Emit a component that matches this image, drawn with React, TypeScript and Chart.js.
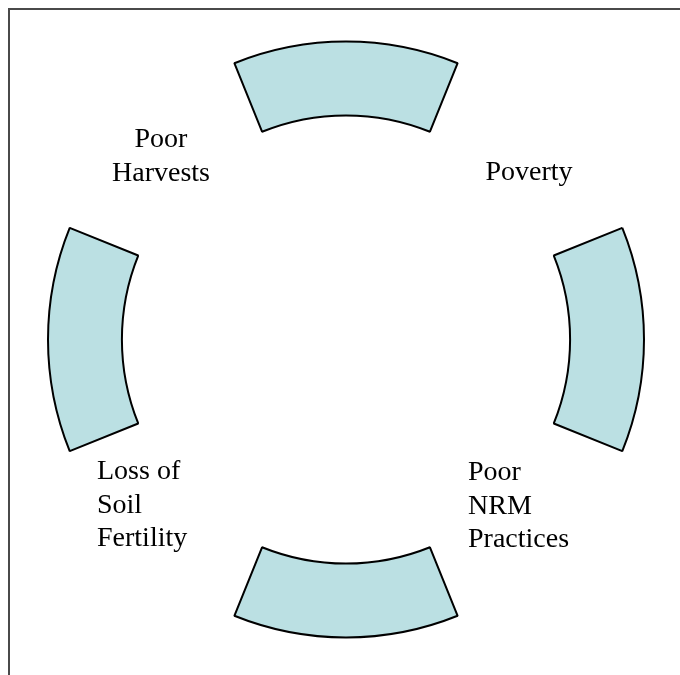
import React, { useEffect, useRef } from "react";
import { Chart, registerables } from "chart.js";

Chart.register(...registerables);

// Cycle stages (clockwise from the top segment)
const stageNames = ["Stage 1", "Stage 2", "Stage 3", "Stage 4"];
// Angular size of each arc segment (degrees) and of the gap after it
const arcDegrees = [44, 44, 44, 44];
const gapDegrees = [46, 46, 46, 46];
// Text labels placed in the gaps (clockwise from top-left)
const labelLines = [
  ["Poor", "Harvests"],
  ["Poverty"],
  ["Poor", "NRM", "Practices"],
  ["Loss of", "Soil", "Fertility"],
];

const W = 680;
const H = 675;
const FILL = "#BBE0E3";
const FONT = '28px "Liberation Serif", "Times New Roman", serif';

export default function App() {
  const ref = useRef<HTMLCanvasElement | null>(null);

  useEffect(() => {
    if (!ref.current) return;

    const values: number[] = [];
    const labels: string[] = [];
    const bg: string[] = [];
    const bw: number[] = [];
    stageNames.forEach((n, i) => {
      values.push(arcDegrees[i]);
      labels.push(n);
      bg.push(FILL);
      bw.push(2);
      values.push(gapDegrees[i]);
      labels.push("gap " + (i + 1));
      bg.push("rgba(0,0,0,0)");
      bw.push(0);
    });

    // layout anchors for the text blocks: [x, firstBaseline, align]
    const anchors: [number, number, CanvasTextAlign][] = [
      [161, 147, "center"],
      [529, 180, "center"],
      [468, 480, "left"],
      [97, 479, "left"],
    ];
    const lineH = 33.5;

    const textPlugin = {
      id: "cycleText",
      afterDraw(chart: any) {
        const ctx = chart.ctx as CanvasRenderingContext2D;
        ctx.save();
        ctx.font = FONT;
        ctx.fillStyle = "#000";
        ctx.textBaseline = "alphabetic";
        labelLines.forEach((lines, i) => {
          const [x, y, align] = anchors[i];
          ctx.textAlign = align;
          lines.forEach((t, j) => ctx.fillText(t, x, y + j * lineH));
        });
        ctx.restore();
      },
    };

    const chart = new Chart(ref.current, {
      type: "doughnut",
      data: {
        labels,
        datasets: [
          {
            data: values,
            backgroundColor: bg,
            borderColor: "#000",
            borderWidth: bw,
            borderJoinStyle: "bevel",
            borderAlign: "center",
          } as any,
        ],
      },
      options: {
        responsive: false,
        animation: false,
        events: [],
        rotation: -22,
        radius: 298,
        cutout: "75.2%",
        layout: { padding: { left: 12, right: 0, top: 4, bottom: 0 } },
        plugins: {
          legend: { display: false },
          tooltip: { enabled: false },
        },
      } as any,
      plugins: [textPlugin],
    });

    return () => chart.destroy();
  }, []);

  return (
    <div style={{ position: "absolute", left: 0, top: 0, width: W, height: H, overflow: "hidden" }}>
      <div
        style={{
          position: "absolute",
          left: 8,
          top: 8,
          width: 720,
          height: 720,
          borderTop: "2px solid #4a4a4a",
          borderLeft: "2px solid #4a4a4a",
          boxSizing: "border-box",
        }}
      />
      <canvas
        ref={ref}
        width={W}
        height={H}
        style={{ position: "absolute", left: 0, top: 0, width: W, height: H }}
      />
    </div>
  );
}
